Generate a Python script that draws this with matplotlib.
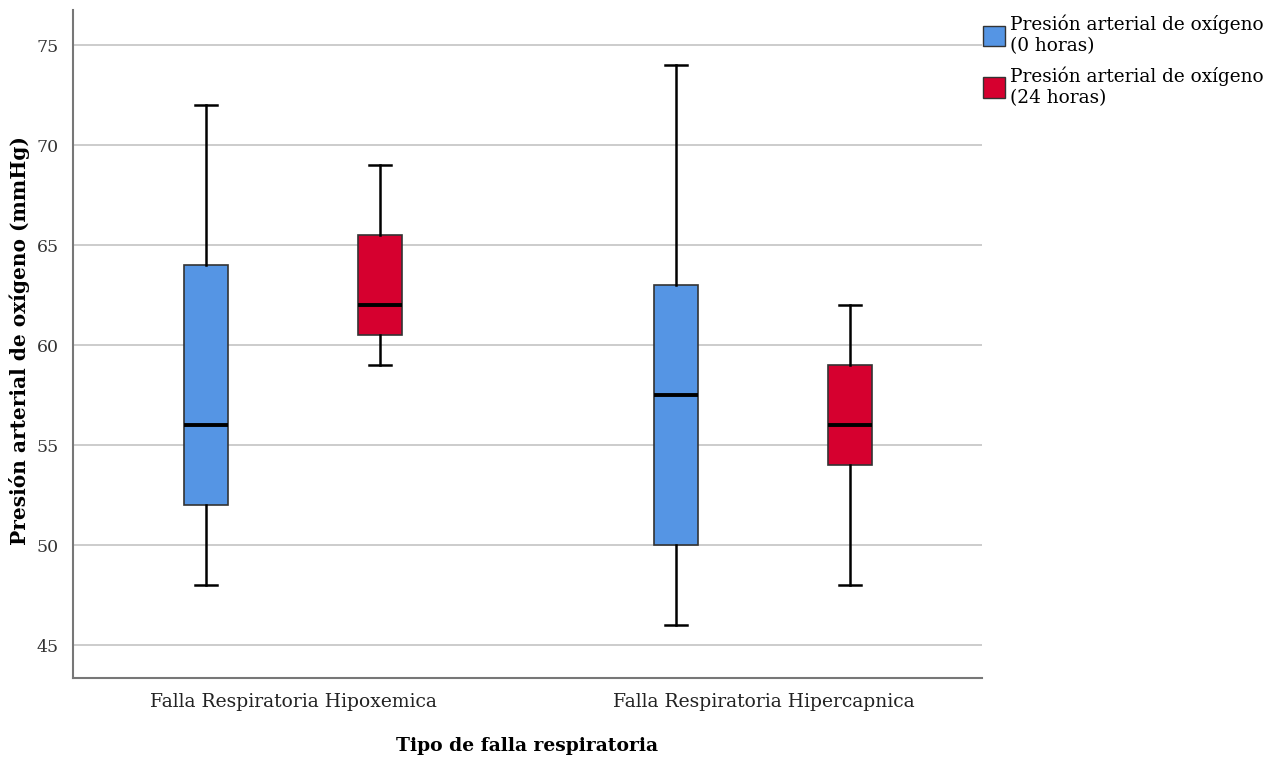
import numpy as np
import matplotlib.pyplot as plt
from matplotlib.patches import Patch

categories = ['Falla Respiratoria Hipoxemica', 'Falla Respiratoria Hipercapnica']
series = ['Presión arterial de oxígeno\n(0 horas)', 'Presión arterial de oxígeno\n(24 horas)']
colors = ['#5595E4', '#D6002F']

# per series: one value per category
whislo = [[48, 46], [59, 48]]
q1 = [[52, 50], [60.5, 54]]
med = [[56, 57.5], [62, 56]]
q3 = [[64, 63], [65.5, 59]]
whishi = [[72, 74], [69, 62]]

yticks = [45, 50, 55, 60, 65, 70, 75]

plt.rcParams['font.family'] = ['DejaVu Serif']

fig = plt.figure(figsize=(12.78, 7.59), dpi=100)
ax = fig.add_axes([0.0571, 0.1067, 0.7113, 0.880])

offsets = [-0.185, 0.185]
x = np.arange(len(categories))
for s in range(len(series)):
    stats = [dict(whislo=whislo[s][i], q1=q1[s][i], med=med[s][i],
                  q3=q3[s][i], whishi=whishi[s][i], fliers=[])
             for i in range(len(categories))]
    ax.bxp(stats, positions=x + offsets[s], widths=0.094, patch_artist=True,
           showfliers=False, manage_ticks=False,
           boxprops=dict(facecolor=colors[s], edgecolor='#333333', linewidth=1.2),
           medianprops=dict(color='black', linewidth=2.8),
           whiskerprops=dict(color='black', linewidth=1.8),
           capprops=dict(color='black', linewidth=1.8),
           capwidths=0.047, zorder=3)

ax.set_xlim(-0.468, 1.465)
ax.set_ylim(43.35, 76.75)
ax.set_xticks(x)
ax.set_xticklabels(categories, fontsize=13.5, color='#222222')
ax.set_yticks(yticks)
ax.set_yticklabels([str(t) for t in yticks], fontsize=12.5, color='#333333')
ax.tick_params(axis='x', length=0, pad=11)
ax.tick_params(axis='y', length=0, pad=10)
ax.grid(axis='y', color='#c8c8c8', linewidth=1.3, zorder=0)
ax.set_axisbelow(True)
for sp in ['top', 'right']:
    ax.spines[sp].set_visible(False)
for sp in ['left', 'bottom']:
    ax.spines[sp].set_color('#777777')
    ax.spines[sp].set_linewidth(1.5)

ax.set_xlabel('Tipo de falla respiratoria', fontsize=13.5, fontweight='bold')
ax.xaxis.set_label_coords(0.5, -0.088)
ax.set_ylabel('Presión arterial de oxígeno (mmHg)', fontsize=14.5, fontweight='bold')
ax.yaxis.set_label_coords(-0.047, 0.505)

handles = [Patch(facecolor=c, edgecolor='#333333', linewidth=1.0) for c in colors]
fig.legend(handles, series, loc='upper left', bbox_to_anchor=(0.7635, 0.99),
           frameon=False, fontsize=13.3, handlelength=1.2, handleheight=1.35,
           handletextpad=0.25, labelspacing=0.6, borderaxespad=0)

fig.savefig('out.png', dpi=100)
